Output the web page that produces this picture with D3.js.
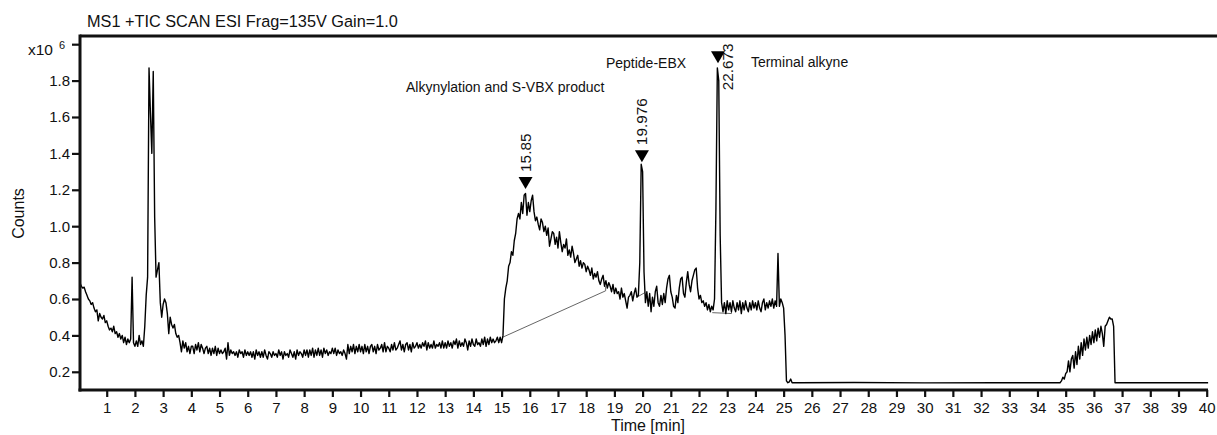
<!DOCTYPE html>
<html>
<head>
<meta charset="utf-8">
<script src="https://cdn.jsdelivr.net/npm/d3@7"></script>
<style>
  html, body { margin: 0; padding: 0; background: #fff; }
  svg { display: block; font-family: "Liberation Sans", Arial, sans-serif; }
</style>
</head>
<body>
<svg id="chart" width="1217" height="435"></svg>
<script>
// ---------------- DATA ----------------
const chartTitle = "MS1 +TIC SCAN ESI Frag=135V Gain=1.0";
const xAxisTitle = "Time [min]";
const yAxisTitle = "Counts";
const xTickValues = d3.range(1, 41);           // 1 .. 40 min
const yTickValues = [0.2, 0.4, 0.6, 0.8, 1.0, 1.2, 1.4, 1.6, 1.8, 2.0];

// TIC trace (x10^6 counts), sampled every 0.05 min from 0.05 to 25.50 min
const scanStep = 0.05;
const ticStart = 0.05;
const ticCounts = [
  0.69,0.67,0.66,0.665,0.64,0.62,0.60,0.59,0.57,0.58,0.55,0.53,0.54,0.48,0.52,0.50,0.49,0.51,0.47,0.48,
  0.45,0.43,0.44,0.42,0.45,0.41,0.42,0.39,0.41,0.38,0.40,0.36,0.39,0.35,0.38,0.36,0.38,0.72,0.36,0.34,
  0.37,0.34,0.40,0.35,0.37,0.34,0.45,0.62,0.72,1.87,1.62,1.40,1.85,1.05,0.72,0.76,0.80,0.58,0.50,0.57,
  0.60,0.58,0.52,0.41,0.50,0.46,0.44,0.46,0.41,0.39,0.40,0.36,0.31,0.37,0.33,0.36,0.31,0.34,0.30,0.34,
  0.34,0.30,0.35,0.32,0.36,0.31,0.35,0.33,0.30,0.33,0.34,0.30,0.33,0.29,0.33,0.30,0.34,0.29,0.33,0.30,
  0.32,0.30,0.31,0.33,0.27,0.36,0.29,0.32,0.30,0.31,0.29,0.31,0.28,0.32,0.30,0.31,0.28,0.32,0.29,0.31,
  0.29,0.31,0.28,0.31,0.27,0.32,0.29,0.31,0.28,0.31,0.28,0.32,0.29,0.27,0.31,0.30,0.28,0.31,0.29,0.30,
  0.28,0.32,0.29,0.31,0.27,0.31,0.29,0.30,0.28,0.32,0.30,0.28,0.31,0.27,0.32,0.29,0.31,0.30,0.28,0.32,
  0.29,0.32,0.28,0.32,0.29,0.33,0.28,0.32,0.29,0.33,0.29,0.32,0.28,0.33,0.30,0.32,0.29,0.31,0.30,0.33,
  0.30,0.33,0.29,0.32,0.30,0.31,0.29,0.32,0.30,0.27,0.35,0.30,0.34,0.31,0.35,0.30,0.34,0.31,0.35,0.31,
  0.34,0.30,0.35,0.31,0.34,0.30,0.34,0.35,0.31,0.34,0.30,0.35,0.32,0.33,0.35,0.31,0.36,0.31,0.34,0.33,
  0.31,0.35,0.32,0.36,0.32,0.33,0.35,0.37,0.32,0.35,0.31,0.35,0.36,0.32,0.35,0.31,0.36,0.33,0.34,0.36,
  0.33,0.35,0.33,0.36,0.34,0.37,0.32,0.36,0.33,0.35,0.33,0.37,0.33,0.35,0.34,0.36,0.33,0.37,0.33,0.36,
  0.33,0.37,0.34,0.36,0.33,0.37,0.35,0.38,0.33,0.37,0.34,0.36,0.34,0.38,0.36,0.32,0.37,0.34,0.38,0.35,
  0.34,0.38,0.35,0.36,0.34,0.38,0.35,0.39,0.34,0.38,0.35,0.39,0.36,0.38,0.36,0.37,0.39,0.36,0.39,0.36,
  0.40,0.60,0.66,0.70,0.78,0.80,0.86,0.84,0.92,0.96,1.04,1.07,1.04,1.13,1.07,1.17,1.18,1.06,1.13,1.08,
  1.14,1.17,1.08,1.03,1.05,1.01,0.98,1.04,1.02,0.97,1.00,0.95,0.99,0.89,0.93,0.97,0.96,0.90,0.94,0.88,
  0.97,0.91,0.86,0.90,0.88,0.93,0.84,0.87,0.83,0.89,0.85,0.80,0.82,0.84,0.78,0.81,0.77,0.80,0.79,0.75,
  0.78,0.76,0.73,0.77,0.71,0.74,0.72,0.75,0.70,0.68,0.71,0.73,0.67,0.70,0.66,0.69,0.67,0.64,0.68,0.63,
  0.66,0.63,0.64,0.60,0.66,0.61,0.63,0.59,0.55,0.61,0.62,0.64,0.59,0.63,0.66,0.61,0.62,0.80,1.34,1.30,
  0.75,0.58,0.64,0.56,0.63,0.53,0.61,0.56,0.64,0.67,0.58,0.56,0.62,0.57,0.63,0.58,0.66,0.71,0.73,0.64,
  0.61,0.56,0.55,0.62,0.58,0.66,0.71,0.72,0.63,0.61,0.69,0.75,0.68,0.64,0.70,0.73,0.76,0.77,0.66,0.60,
  0.62,0.58,0.59,0.56,0.58,0.54,0.57,0.53,0.56,0.54,0.60,1.10,1.87,1.80,0.95,0.58,0.53,0.58,0.52,0.59,
  0.54,0.58,0.53,0.59,0.55,0.53,0.58,0.54,0.59,0.52,0.58,0.54,0.59,0.55,0.53,0.58,0.54,0.59,0.55,0.58,
  0.54,0.59,0.55,0.53,0.58,0.60,0.54,0.58,0.55,0.59,0.56,0.60,0.55,0.59,0.56,0.85,0.56,0.60,0.58,0.55,
  0.40,0.15,0.14,0.145,0.16,0.14,0.14,0.14,0.14,0.14
];
// flat low section after the gradient drop
const flatTimes  = [25.55, 27.5, 30.0, 32.5, 34.75];
const flatCounts = [0.14, 0.141, 0.139, 0.14, 0.14];
// wash hump, sampled every 0.05 min from 34.80 to 36.75
const washStart = 34.80;
const washCounts = [
  0.14,0.15,0.17,0.16,0.19,0.20,0.26,0.20,0.27,0.29,0.22,0.31,0.24,0.34,0.27,0.36,0.29,0.38,0.32,0.39,
  0.33,0.40,0.35,0.42,0.36,0.43,0.37,0.44,0.39,0.45,0.41,0.34,0.45,0.46,0.48,0.50,0.49,0.49,0.45,0.14
];
const tailTimes  = [36.80, 38.5, 40.05];
const tailCounts = [0.14, 0.14, 0.14];

// integration baselines
const baselineStartT = [15.04, 19.80, 22.47];
const baselineStartC = [0.39, 0.61, 0.525];
const baselineEndT   = [18.69, 20.08, 23.15];
const baselineEndC   = [0.645, 0.635, 0.52];
const baselineEndTickC = [0.67, 0.635, 0.55];

// peak markers
const peakTimes  = [15.85, 19.976, 22.673];
const peakApex   = [1.205, 1.352, 1.895];
const peakLabels = ["15.85", "19.976", "22.673"];

// compound annotations
const annotationTexts = ["Alkynylation and S-VBX product", "Peptide-EBX", "Terminal alkyne"];
const annotationTimes = [11.61, 18.70, 23.84];
const annotationLevels = [1.765, 1.895, 1.905];

// ---------------- BUILD POINTS ----------------
const trace = [];
ticCounts.forEach((c, i) => trace.push([ticStart + i * scanStep, c]));
flatTimes.forEach((t, i) => trace.push([t, flatCounts[i]]));
washCounts.forEach((c, i) => trace.push([washStart + i * scanStep, c]));
tailTimes.forEach((t, i) => trace.push([t, tailCounts[i]]));

// ---------------- LAYOUT ----------------
const svg = d3.select("#chart");
const plotL = 80, plotR = 1208, plotT = 36, plotB = 390;
const x = d3.scaleLinear().domain([0.053, 40.046]).range([plotL, plotR]);
const y = d3.scaleLinear().domain([0.1, 2.045]).range([plotB, plotT]);
const ink = "#111";

svg.append("defs").append("clipPath").attr("id", "clip")
  .append("rect").attr("x", plotL + 1).attr("y", plotT + 1)
  .attr("width", plotR - plotL + 6).attr("height", plotB - plotT - 2);

// title
svg.append("text").attr("x", 87).attr("y", 26.5)
  .attr("font-size", 16.3).attr("fill", ink).text(chartTitle);

// integration baselines
const gBase = svg.append("g").attr("clip-path", "url(#clip)")
  .attr("stroke", "#555").attr("stroke-width", 0.9).attr("fill", "none");
baselineStartT.forEach((t0, i) => {
  gBase.append("line")
    .attr("x1", x(t0)).attr("y1", y(baselineStartC[i]))
    .attr("x2", x(baselineEndT[i])).attr("y2", y(baselineEndC[i]));
  gBase.append("line")
    .attr("x1", x(baselineEndT[i])).attr("y1", y(baselineEndC[i]))
    .attr("x2", x(baselineEndT[i])).attr("y2", y(baselineEndTickC[i]));
});

// trace
const line = d3.line().x(d => x(d[0])).y(d => y(d[1]));
svg.append("path").datum(trace)
  .attr("clip-path", "url(#clip)")
  .attr("fill", "none").attr("stroke", "#000")
  .attr("stroke-width", 1.4).attr("stroke-linejoin", "round")
  .attr("d", line);

// axes
const xAxis = d3.axisBottom(x).tickValues(xTickValues).tickSize(7).tickPadding(5).tickFormat(d3.format("d"));
const gx = svg.append("g").attr("transform", `translate(0,${plotB})`).call(xAxis);
gx.select(".domain").remove();
gx.selectAll(".tick line").attr("stroke", ink).attr("stroke-width", 2.2);
gx.selectAll(".tick text").attr("font-size", 15).attr("fill", ink)
  .attr("font-family", "Liberation Sans, Arial, sans-serif");

const yAxis = d3.axisLeft(y).tickValues(yTickValues).tickSize(8).tickPadding(2)
  .tickFormat(d => d >= 2 ? "" : d.toFixed(1));
const gy = svg.append("g").attr("transform", `translate(${plotL},0)`).call(yAxis);
gy.select(".domain").remove();
gy.selectAll(".tick line").attr("stroke", ink).attr("stroke-width", 2.2);
gy.selectAll(".tick text").attr("font-size", 15).attr("fill", ink)
  .attr("font-family", "Liberation Sans, Arial, sans-serif");

// frame lines
svg.append("line").attr("x1", plotL).attr("x2", 1217).attr("y1", plotT).attr("y2", plotT)
  .attr("stroke", ink).attr("stroke-width", 3);
svg.append("line").attr("x1", plotL).attr("x2", plotL).attr("y1", plotT - 1.5).attr("y2", plotB + 1.5)
  .attr("stroke", ink).attr("stroke-width", 3);
svg.append("line").attr("x1", plotL - 1.5).attr("x2", plotR).attr("y1", plotB).attr("y2", plotB)
  .attr("stroke", ink).attr("stroke-width", 3);

// exponent label
svg.append("text").attr("x", 28).attr("y", 55).attr("font-size", 15.5).attr("fill", ink).text("x10");
svg.append("text").attr("x", 59).attr("y", 48.5).attr("font-size", 11).attr("fill", ink).text("6");

// axis titles
svg.append("text").attr("x", 648).attr("y", 431).attr("text-anchor", "middle")
  .attr("font-size", 16).attr("fill", ink).text(xAxisTitle);
svg.append("text").attr("transform", "translate(24,213.5) rotate(-90)").attr("text-anchor", "middle")
  .attr("font-size", 16).attr("fill", ink).text(yAxisTitle);

// peak markers
const triW = 14, triH = 12;
peakTimes.forEach((t, i) => {
  const px = x(t), py = y(peakApex[i]);
  svg.append("path")
    .attr("d", `M${px - triW / 2},${py - triH} L${px + triW / 2},${py - triH} L${px},${py} Z`)
    .attr("fill", "#000");
  const last = i === peakTimes.length - 1;
  const lx = last ? px + 9 : px;
  const ly = last ? py + 27 : py - triH - 5;
  svg.append("text")
    .attr("transform", `translate(${lx},${ly}) rotate(-90)`)
    .attr("dy", "0.36em").attr("font-size", 15.3).attr("fill", ink)
    .text(peakLabels[i]);
});

// annotations
annotationTexts.forEach((s, i) => {
  svg.append("text").attr("x", x(annotationTimes[i])).attr("y", y(annotationLevels[i]))
    .attr("dy", "0.36em").attr("font-size", 14).attr("fill", ink).text(s);
});
</script>
</body>
</html>
